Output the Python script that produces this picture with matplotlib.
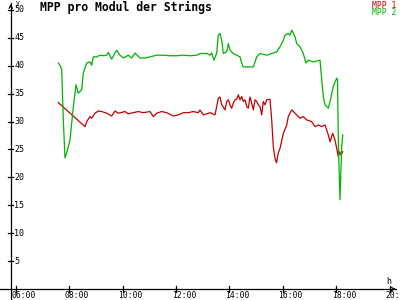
import numpy as np
import matplotlib
matplotlib.use('Agg')
import matplotlib.pyplot as plt

OUTPUT_PATH = 'out.png'

# Messwerte (Stunden als Dezimalzahl, Spannung in V)
t_mpp1 = [7.596, 8.596, 8.659, 8.783, 8.846, 8.970, 9.094, 9.221, 9.408, 9.595,
          9.719, 9.843, 10.094, 10.217, 10.405, 10.592, 10.779, 11.030, 11.154, 11.281,
          11.468, 11.655, 11.903, 12.090, 12.277, 12.464, 12.652, 12.839, 12.903, 13.026,
          13.154, 13.277, 13.464, 13.528, 13.588, 13.652, 13.715, 13.775, 13.839, 13.903,
          13.963, 14.026, 14.090, 14.150, 14.213, 14.277, 14.337, 14.401, 14.464, 14.524,
          14.588, 14.652, 14.712, 14.775, 14.839, 14.899, 14.963, 15.026, 15.086, 15.150,
          15.213, 15.273, 15.337, 15.401, 15.524, 15.588, 15.648, 15.712, 15.768, 15.835,
          15.899, 16.023, 16.150, 16.210, 16.337, 16.524, 16.648, 16.772, 16.899, 17.086,
          17.210, 17.334, 17.461, 17.584, 17.708, 17.772, 17.873, 17.959, 18.023, 18.083,
          18.127, 18.184, 18.247]
mpp1 = [33.4, 29.1, 30.0, 30.9, 30.6, 31.5, 31.9, 31.8, 31.5, 31.0,
        31.9, 31.5, 31.8, 31.4, 31.6, 31.8, 31.6, 31.8, 30.9, 31.5,
        31.8, 31.6, 31.0, 31.2, 31.6, 31.6, 31.8, 31.6, 32.1, 31.2,
        31.4, 31.6, 31.2, 32.7, 34.2, 34.4, 33.0, 32.6, 32.1, 33.6,
        33.9, 33.0, 32.4, 33.3, 33.9, 34.0, 34.8, 33.9, 34.5, 33.6,
        33.9, 32.7, 32.4, 34.4, 33.3, 32.1, 33.9, 33.6, 33.0, 32.7,
        31.2, 33.6, 33.0, 33.9, 34.0, 30.3, 25.5, 23.4, 22.6, 24.4,
        25.2, 27.9, 29.4, 30.9, 32.1, 31.2, 30.6, 30.9, 30.3, 30.0,
        29.1, 29.4, 29.1, 29.4, 27.6, 26.4, 27.9, 26.7, 25.2, 23.7,
        24.6, 24.0, 24.6]

t_mpp2 = [7.596, 7.659, 7.723, 7.783, 7.846, 7.921, 8.034, 8.157, 8.258, 8.345,
          8.472, 8.532, 8.659, 8.783, 8.846, 8.906, 9.034, 9.157, 9.281, 9.408,
          9.468, 9.595, 9.719, 9.783, 9.906, 10.030, 10.217, 10.345, 10.468, 10.655,
          10.843, 11.030, 11.281, 11.528, 11.779, 12.030, 12.277, 12.528, 12.779, 12.903,
          13.154, 13.277, 13.341, 13.427, 13.528, 13.588, 13.652, 13.715, 13.775, 13.903,
          13.963, 14.026, 14.150, 14.277, 14.401, 14.464, 14.524, 14.712, 14.899, 15.026,
          15.150, 15.401, 15.588, 15.775, 15.899, 16.023, 16.086, 16.210, 16.273, 16.337,
          16.461, 16.524, 16.648, 16.772, 16.873, 16.959, 17.146, 17.397, 17.461, 17.521,
          17.584, 17.708, 17.772, 17.895, 18.023, 18.052, 18.090, 18.146, 18.210, 18.247]
mpp2 = [40.5, 40.1, 39.3, 30.3, 23.5, 24.6, 26.7, 32.6, 36.6, 35.1,
        35.7, 38.7, 40.5, 40.7, 40.1, 41.6, 41.6, 41.9, 41.8, 41.9,
        42.4, 41.2, 42.3, 42.8, 41.9, 41.4, 41.9, 41.4, 42.3, 41.4,
        41.4, 41.6, 41.9, 41.9, 41.8, 41.8, 41.9, 41.8, 41.9, 42.2,
        42.2, 41.9, 42.3, 41.0, 42.3, 45.5, 45.8, 44.6, 42.2, 42.5,
        44.0, 42.8, 42.2, 41.9, 41.6, 40.5, 39.8, 39.8, 39.8, 41.6,
        42.2, 41.9, 42.2, 42.5, 43.4, 44.6, 45.5, 45.8, 45.5, 46.4,
        45.2, 44.0, 43.4, 42.2, 40.5, 41.0, 40.7, 41.0, 37.5, 34.5,
        33.0, 32.4, 33.6, 36.3, 37.8, 37.5, 24.9, 16.0, 25.5, 27.6]

y_ticks = [5, 10, 15, 20, 25, 30, 35, 40, 45, 50]
x_ticks = [6, 8, 10, 12, 14, 16, 18, 20]
x_labels = ['06:00', '08:00', '10:00', '12:00', '14:00', '16:00', '18:00', '20:00']

RED = '#c40000'
GREEN = '#00b400'
MONO = 'DejaVu Sans Mono'

fig = plt.figure(figsize=(4, 3), dpi=100)
fig.patch.set_facecolor('white')
ax = fig.add_axes([0, 0, 1, 1])
ax.set_xlim(5.412, 20.393)
ax.set_ylim(-1.97, 51.79)
ax.axis('off')

# Achsen mit Pfeilen
y_axis_x = 5.813
ax.plot([y_axis_x, y_axis_x], [-1.97, 51.3], color='black', lw=0.9)
ax.annotate('', xy=(y_axis_x, 51.6), xytext=(y_axis_x, 50.0),
            arrowprops=dict(arrowstyle='->', color='black', lw=0.8, mutation_scale=6))
ax.plot([5.412, 20.25], [0, 0], color='black', lw=0.9)
ax.annotate('', xy=(20.34, 0), xytext=(20.0, 0),
            arrowprops=dict(arrowstyle='->', color='black', lw=0.8, mutation_scale=6))

# Y-Ticks
for v in y_ticks:
    ax.plot([5.72, 5.90], [v, v], color='black', lw=0.9)
    ax.text(5.94, v, str(v), fontsize=6, family=MONO, va='center', ha='left')

# X-Ticks
for h, lab in zip(x_ticks, x_labels):
    ax.plot([h, h], [-0.45, 0.45], color='black', lw=0.9)
    ax.text(h - 0.16, -0.35, lab, fontsize=5.8, family=MONO, va='top', ha='left')

# Einheiten
fig.text(15.5 / 400, 1 - 3.5 / 300, 'V', fontsize=4.5, family=MONO, va='center', ha='left')
ax.text(19.89, 1.4, 'h', fontsize=6, family=MONO, va='center', ha='left')

# Messreihen
ax.plot(t_mpp1, mpp1, color=RED, lw=0.9)
ax.plot(t_mpp2, mpp2, color=GREEN, lw=0.9)

fig.text(0.10, 1 - 7.3 / 300, 'MPP pro Modul der Strings', fontsize=8.3,
         fontweight='bold', family=MONO, va='center', ha='left')
fig.text(0.99, 1 - 5.0 / 300, 'MPP 1', fontsize=5.8, family=MONO, color=RED,
         va='center', ha='right')
fig.text(0.99, 1 - 12.8 / 300, 'MPP 2', fontsize=5.8, family=MONO, color=GREEN,
         va='center', ha='right')

plt.savefig(OUTPUT_PATH, dpi=100)
